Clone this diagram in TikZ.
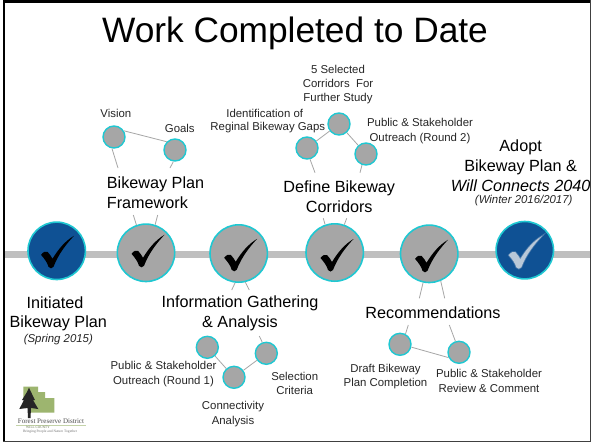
\documentclass[tikz,border=0pt]{standalone}
\usepackage{fontspec}
\setmainfont{Liberation Sans}
\newfontfamily\logofont{Liberation Serif}
\definecolor{cyanring}{HTML}{1FC8D2}
\definecolor{discgray}{HTML}{A6A6A6}
\definecolor{deepblue}{HTML}{0F5194}
\definecolor{barg}{HTML}{BFBFBF}
\definecolor{leafg}{HTML}{9DB56F}
\definecolor{palecheck}{HTML}{B9C8D8}
\tikzset{
 bigdisc/.style={circle,draw=cyanring,line width=1.6pt,fill=discgray,minimum size=57.4pt,inner sep=0pt},
 bluedisc/.style={bigdisc,fill=deepblue},
 smalldisc/.style={circle,draw=cyanring,line width=1.4pt,fill=discgray,minimum size=22pt,inner sep=0pt},
 link/.style={draw=discgray,line width=0.8pt},
 head/.style={font=\fontsize{16.2}{20}\selectfont,align=center,text=black,inner sep=0pt},
 note/.style={font=\fontsize{11.4}{14.2}\selectfont,align=center,text=black!85,inner sep=0pt},
 sub/.style={font=\fontsize{11.4}{14}\itshape\selectfont,align=center,text=black!85,inner sep=0pt},
}
\newcommand{\tick}[2]{\fill[#2,shift={(#1)}] (-14.5,1) .. controls (-12,-2) and (-10,-3) .. (-8,-2) .. controls (-6,0) and (-4,3) .. (-3,5) .. controls (3,-5) and (10,-13) .. (18.5,-18) .. controls (11,-10) and (3,0) .. (-2,13) .. controls (-3,15) and (-6,15) .. (-7,13) .. controls (-8,9) and (-11,5) .. (-14.5,1) -- cycle;}
\begin{document}
\begin{tikzpicture}[x=1pt,y=-1pt]
\useasboundingbox (0,0) rectangle (591,442);
\fill[white] (0,0) rectangle (591,442);
\fill[barg] (3,251) rectangle (590,258);
% free ends
\coordinate (e1) at (133.3,215); \coordinate (e2) at (157.7,215);
\coordinate (e3) at (118,168); \coordinate (e4) at (170,168);
\coordinate (e5) at (315,172.7); \coordinate (e6) at (360,172.7);
\coordinate (e7) at (323.3,218.3); \coordinate (e8) at (346.7,218.3);
\coordinate (e9) at (231.7,290); \coordinate (e10) at (249.3,290);
\coordinate (e11) at (259.3,336);
\coordinate (e12) at (419.3,298.3); \coordinate (e13) at (444.7,298.3);
\coordinate (e14) at (408.3,325); \coordinate (e15) at (449.3,325);
% large discs
\node[bluedisc] (p0) at (56.7,250.8) {};
\node[bigdisc] (p1) at (146,252.8) {};
\node[bigdisc] (p2) at (238.7,253.5) {};
\node[bigdisc] (p3) at (334.7,252.5) {};
\node[bigdisc] (p4) at (429.2,253.8) {};
\node[bluedisc] (p5) at (524.8,250.2) {};
% small discs
\node[smalldisc] (vis) at (114,137) {};
\node[smalldisc] (goa) at (175,150) {};
\node[smalldisc] (gap) at (307,148) {};
\node[smalldisc] (sel) at (339,124) {};
\node[smalldisc] (ou2) at (366,154) {};
\node[smalldisc] (ou1) at (207.3,347.3) {};
\node[smalldisc] (con) at (234,377.3) {};
\node[smalldisc] (cri) at (266.3,353.3) {};
\node[smalldisc] (dra) at (400,344.3) {};
\node[smalldisc] (rev) at (459,352.3) {};
% connectors
\draw[link] (vis.32) -- (goa.135);
\draw[link] (vis.260) -- (e3);
\draw[link] (goa.262) -- (e4);
\draw[link] (gap) -- (sel);
\draw[link] (sel) -- (ou2);
\draw[link] (gap.285) -- (e5);
\draw[link] (ou2.250) -- (e6);
\draw[link] (ou1) -- (con);
\draw[link] (con) -- (cri);
\draw[link] (cri.110) -- (e11);
\draw[link] (dra.-14) -- (rev.207);
\draw[link] (dra.62) -- (e14);
\draw[link] (rev.108) -- (e15);
\draw[link] (p1.109) -- (e1);
\draw[link] (p1.72) -- (e2);
\draw[link] (p2.263) -- (e9);
\draw[link] (p2.283) -- (e10);
\draw[link] (p3.109) -- (e7);
\draw[link] (p3.71) -- (e8);
\draw[link] (p4.258) -- (e12);
\draw[link] (p4.293) -- (e13);
% ticks
\tick{55.5,253.8}{black}
\tick{146,252.8}{black}
\tick{238.7,256.8}{black}
\tick{335,257}{black}
\tick{429.5,257.8}{black}
\fill[palecheck,draw=palecheck,draw opacity=0.35,line width=1.6pt,shift={(523.3,254.2)}] (-14.5,1) .. controls (-12,-2) and (-10,-3) .. (-8,-2) .. controls (-6,0) and (-4,3) .. (-3,5) .. controls (3,-5) and (10,-13) .. (18.5,-18) .. controls (11,-10) and (3,0) .. (-2,13) .. controls (-3,15) and (-6,15) .. (-7,13) .. controls (-8,9) and (-11,5) .. (-14.5,1) -- cycle;
% text
\node[font=\fontsize{35.3}{40}\selectfont,inner sep=0pt] (title) at (295,33) {Work Completed to Date};
\node[head] (h0a) at (55,303) {Initiated};
\node[head] (h0b) at (58.3,323) {Bikeway Plan};
\node[sub] (s0) at (58.3,339.3) {(Spring 2015)};
\node[head,align=left,anchor=west] (h1) at (106.7,192.7) {Bikeway Plan\\Framework};
\node[head] (h2) at (240,313.3) {Information Gathering\\\& Analysis};
\node[head] (h3) at (339.3,196.7) {Define Bikeway\\Corridors};
\node[head] (h4) at (433,312.3) {Recommendations};
\node[head] (h5) at (520.6,165.5) {Adopt\\Bikeway Plan \&\\\itshape Will Connects 2040};
\node[sub] (s5) at (523.7,200.7) {(Winter 2016/2017)};
\node[note] (n1) at (115.8,113.3) {Vision};
\node[note] (n2) at (179.8,128) {Goals};
\node[note] (n3a) at (264.7,113.3) {Identification of};
\node[note] (n3b) at (267.8,127.3) {Reginal Bikeway Gaps};
\node[note] (n4) at (338,84.5) {5 Selected\\Corridors~ For\\Further Study};
\node[note] (n5) at (420,131) {Public \& Stakeholder\\Outreach (Round 2)};
\node[note] (n6) at (163.5,374) {Public \& Stakeholder\\Outreach (Round 1)};
\node[note] (n7) at (294.7,383.5) {Selection\\Criteria};
\node[note] (n8) at (233,414) {Connectivity\\Analysis};
\node[note] (n9) at (385.5,376.5) {Draft Bikeway\\Plan Completion};
\node[note] (n10) at (489,381) {Public \& Stakeholder\\Review \& Comment};
% logo
\fill[leafg] (23.3,386.7) rectangle (38,392) (23.3,392) rectangle (45,398) (30,398) rectangle (54.3,412.7);
\fill[black!85] (29,387.7) -- (32,394) -- (35,400) -- (33,400) -- (38.3,409) -- (31,408) -- (30.5,418) -- (28,418) -- (27.5,408) -- (19.3,409) -- (24,400) -- (22,400) -- (27,392) -- cycle;
\fill[leafg!60] (16,424.5) rectangle (86,425.5);
\node[font=\logofont\fontsize{7}{8}\selectfont,inner sep=0pt,text=black!70] (logo) at (51,421.2) {Forest Preserve District};
\node[font=\logofont\fontsize{3.4}{4}\selectfont,inner sep=0pt,text=leafg!60!black] (logob) at (38,427.5) {WILL COUNTY};
\node[font=\logofont\fontsize{3.6}{4}\selectfont,inner sep=0pt,text=black!55] (logoc) at (50,432) {Bringing People and Nature Together};
% frame
\fill[black] (2.5,0) rectangle (4.5,442);
\fill[black] (2.5,0) rectangle (591,3);
\fill[black!75] (2.5,440.5) rectangle (591,442);
\fill[black!75] (589.7,0) rectangle (591,442);
\end{tikzpicture}
\end{document}
